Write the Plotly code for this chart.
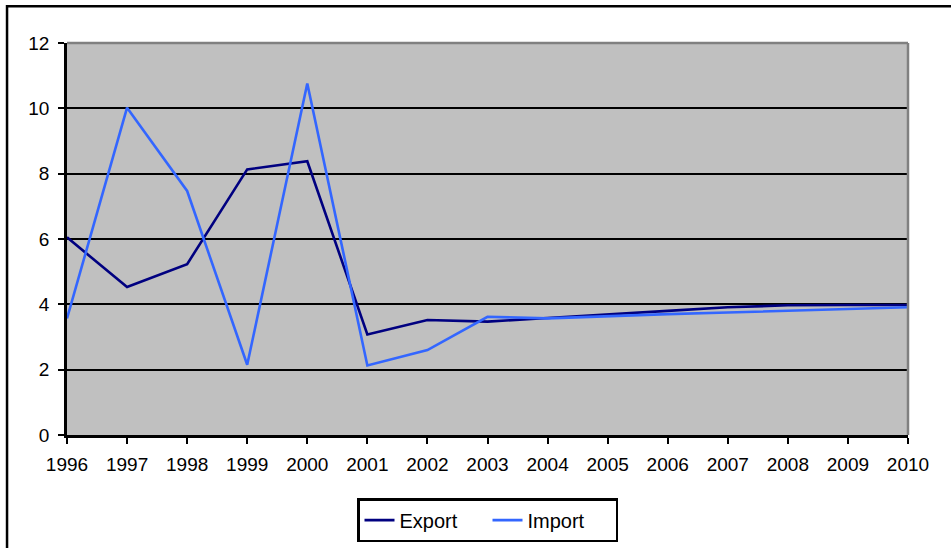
import plotly.graph_objects as go

years = [str(y) for y in range(1996, 2011)]
export_vals = [6.05, 4.53, 5.23, 8.13, 8.38, 3.08, 3.52, 3.47, 3.58, 3.70, 3.80, 3.91, 3.97, 3.98, 3.98]
import_vals = [3.57, 10.02, 7.47, 2.15, 10.76, 2.13, 2.60, 3.62, 3.57, 3.64, 3.70, 3.75, 3.80, 3.86, 3.91]
y_ticks = [0, 2, 4, 6, 8, 10, 12]

font_family = "Liberation Sans, Arial, sans-serif"

fig = go.Figure()
fig.add_trace(go.Scatter(x=years, y=export_vals, mode="lines", name="Export",
                         line=dict(color="#000080", width=2.6)))
fig.add_trace(go.Scatter(x=years, y=import_vals, mode="lines", name="Import",
                         line=dict(color="#3366FF", width=2.6)))

fig.update_layout(
    width=951, height=548,
    margin=dict(l=67, r=43, t=43, b=113, autoexpand=False),
    paper_bgcolor="white",
    plot_bgcolor="#C0C0C0",
    font=dict(family=font_family, size=19, color="black"),
    showlegend=True,
    legend=dict(orientation="h", x=0.5, xanchor="center",
                yref="container", y=0.091, yanchor="top",
                bordercolor="black", borderwidth=2.5, bgcolor="white",
                font=dict(size=20), tracegroupgap=0,
                entrywidth=83, entrywidthmode="pixels"),
    xaxis=dict(
        type="category", range=[0, 14], showgrid=False, zeroline=False,
        showline=True, linecolor="black", linewidth=2.5,
        ticks="outside", ticklen=6, tickwidth=2, tickcolor="black",
        ticklabelstandoff=4,
        tickfont=dict(size=19), fixedrange=True,
    ),
    yaxis=dict(
        range=[0, 12], tickvals=y_ticks, showgrid=True, gridcolor="black", gridwidth=2,
        zeroline=False, showline=True, linecolor="black", linewidth=2.5,
        ticks="outside", ticklen=6, tickwidth=2, tickcolor="black",
        ticklabelstandoff=5,
        tickfont=dict(size=19), fixedrange=True,
    ),
    shapes=[
        # gray frame on the top and right of the plot area
        dict(type="line", xref="paper", yref="paper", x0=0, x1=1, y0=1, y1=1,
             line=dict(color="#808080", width=2.5), layer="above"),
        dict(type="line", xref="paper", yref="paper", x0=1, x1=1, y0=0, y1=1,
             line=dict(color="#808080", width=2.5), layer="above"),
        # outer chart border
        dict(type="rect", xref="paper", yref="paper",
             x0=-0.0713, x1=1.06, y0=-0.33, y1=1.094,
             line=dict(color="black", width=2.5), layer="below"),
    ],
)

fig.write_html("out.html")
